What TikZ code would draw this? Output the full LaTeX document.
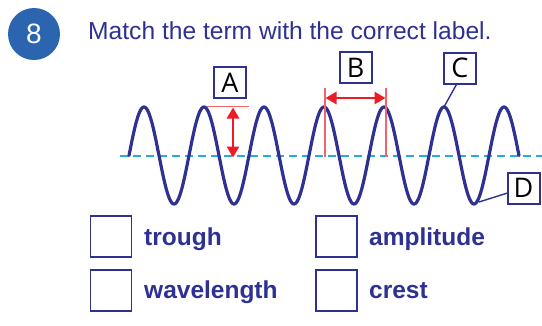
\documentclass[tikz,border=0pt]{standalone}
\usepackage{fontspec}
\setmainfont{Liberation Sans}
\newfontfamily\boxfont{Open Sans}
\usetikzlibrary{arrows.meta}
\definecolor{navy}{HTML}{2E3192}
\definecolor{circblue}{HTML}{2B65AF}
\definecolor{arrred}{HTML}{ED1C24}
\definecolor{linered}{HTML}{F0646A}
\definecolor{cyanl}{HTML}{29ABE2}
\tikzset{
  lbox/.style={draw=navy, line width=2pt, fill=white, minimum width=32pt, minimum height=31pt, inner sep=0pt, font=\boxfont\fontsize{27}{27}\selectfont},
  abox/.style={draw=navy, line width=1.6pt, minimum width=41pt, minimum height=41pt, inner sep=0pt},
  word/.style={anchor=base west, inner sep=0pt, text=navy, font=\bfseries\fontsize{24.5}{28}\selectfont},
  wave/.style={navy, line width=3.2pt},
  mark line/.style={linered, line width=1.3pt},
  redarrow/.style={arrred, line width=2.8pt, {Triangle[length=11pt,width=12pt]}-{Triangle[length=11pt,width=12pt]}},
  leader/.style={navy, line width=1.4pt},
}
\begin{document}
\begin{tikzpicture}[x=1pt,y=-1pt]
\useasboundingbox (0,0) rectangle (542,325);
% number badge
\node[circle, fill=circblue, minimum size=52pt, inner sep=0pt, text=white, font=\fontsize{28}{28}\selectfont] (num) at (34,34) {8};
\node[anchor=base west, inner sep=0pt, text=navy, font=\fontsize{24.6}{28}\selectfont] (title) at (88,39.5) {Match the term with the correct label.};
% midline
\draw[cyanl, line width=2pt, dash pattern=on 8pt off 5pt] (120,155.5) -- (542,155.5);
% wave
\draw[wave, line cap=round] plot[domain=129:519, samples=400, smooth] (\x, {155.5 - 48.5*sin(6*(\x-129))});
% A
\node[lbox] (A) at (230,82.5) {A};
\coordinate (Aleft) at (207,106.5);
\coordinate (Aright) at (249,106.5);
\draw[mark line] (Aleft) -- (Aright);
\coordinate (Atop) at (233,107.5);
\coordinate (Abot) at (233,157.5);
\draw[redarrow] (Atop) -- (Abot);
% B
\node[lbox] (B) at (355.5,67.5) {B};
\coordinate (B1t) at (325,88);
\coordinate (B1b) at (325,156.5);
\coordinate (B2t) at (386,88);
\coordinate (B2b) at (386,156.5);
\draw[mark line] (B1t) -- (B1b);
\draw[mark line] (B2t) -- (B2b);
\coordinate (Bl) at (325.5,98);
\coordinate (Br) at (385.5,98);
\draw[redarrow] (Bl) -- (Br);
% C
\node[lbox] (C) at (460,68) {C};
\coordinate (Cfoot) at (457,83.5);
\coordinate (crestC) at (444.5,106);
\draw[leader] (Cfoot) -- (crestC);
% D
\node[lbox] (D) at (523.5,188) {D};
\coordinate (Dfoot) at (507.5,193);
\coordinate (troughD) at (479,202);
\draw[leader] (Dfoot) -- (troughD);
% answer boxes
\node[abox] (b1) at (111,236.5) {};
\node[abox] (b2) at (111,290.5) {};
\node[abox] (b3) at (336.5,236.5) {};
\node[abox] (b4) at (336.5,290.5) {};
\node[word] (w1) at (144,245) {trough};
\node[word] (w2) at (144,298.5) {wavelength};
\node[word] (w3) at (369,245) {amplitude};
\node[word] (w4) at (369,298.5) {crest};
\end{tikzpicture}
\end{document}
